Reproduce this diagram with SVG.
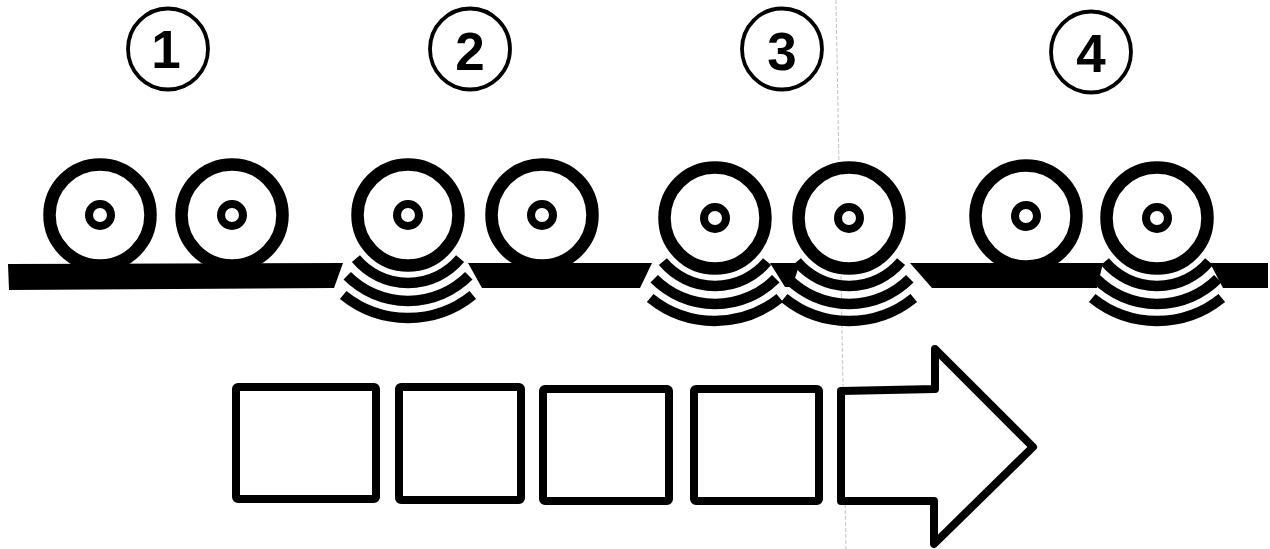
<svg xmlns="http://www.w3.org/2000/svg" xmlns:xlink="http://www.w3.org/1999/xlink" width="1270" height="549" viewBox="0 0 1270 549">
<style>
.lbl{fill:none;stroke:#000;stroke-width:3.8}
.num{font-family:"Liberation Sans",Arial,sans-serif;font-weight:bold;font-size:53px;fill:#000;text-anchor:middle}
.bar{fill:#000}
.box{fill:#fff;stroke:#000;stroke-width:8;stroke-linejoin:round}
</style>
<defs>
<g id="wheel">
<circle r="50.5" fill="#fff" stroke="#000" stroke-width="12.5"/>
<circle r="11" fill="none" stroke="#000" stroke-width="8"/>
</g>
<g id="waves" fill="none" stroke="#000" stroke-width="10.5">
<path d="M-52.1,43.7 A68,68 0 0 0 52.1,43.7"/>
<path d="M-60.8,60.8 A86,86 0 0 0 60.8,60.8"/>
<path d="M-64.8,80.0 A103,103 0 0 0 64.8,80.0"/>
</g>
</defs>
<rect width="1270" height="549" fill="#fff"/>
<line x1="836" y1="0" x2="846" y2="549" stroke="#aaa" stroke-width="1" stroke-dasharray="4 2" opacity="0.7"/>

<g id="label1"><ellipse class="lbl" cx="168" cy="49" rx="40" ry="40.5"/><text class="num" x="166" y="68">1</text></g>
<g id="label2"><ellipse class="lbl" cx="470" cy="49" rx="40" ry="40.5"/><text class="num" x="470" y="70">2</text></g>
<g id="label3"><ellipse class="lbl" cx="782" cy="49" rx="40" ry="40.5"/><text class="num" x="782" y="70">3</text></g>
<g id="label4"><ellipse class="lbl" cx="1091" cy="52" rx="40" ry="40.5"/><text class="num" x="1091" y="72">4</text></g>

<g id="track">
<polygon class="bar" points="8,264 343,263 334,288 9,290"/>
<polygon class="bar" points="468,263 652,263 640,288 482,288"/>
<polygon class="bar" points="770,263 800,263 792,287 785,287"/>
<polygon class="bar" points="910,263 1103,263 1097,288 932,288"/>
<polygon class="bar" points="1210,263 1268,263 1268,288 1223,288"/>
</g>

<g id="step1">
<use xlink:href="#wheel" x="100" y="215"/>
<use xlink:href="#wheel" x="232" y="215"/>
</g>
<g id="step2">
<use xlink:href="#waves" x="408" y="215"/>
<use xlink:href="#wheel" x="408" y="215"/>
<use xlink:href="#wheel" x="542" y="215"/>
</g>
<g id="step3">
<use xlink:href="#waves" x="715" y="218"/>
<use xlink:href="#waves" x="849" y="218"/>
<use xlink:href="#wheel" x="715" y="218"/>
<use xlink:href="#wheel" x="849" y="218"/>
</g>
<g id="step4">
<use xlink:href="#waves" x="1157" y="218"/>
<use xlink:href="#wheel" x="1026" y="216"/>
<use xlink:href="#wheel" x="1157" y="218"/>
</g>

<g id="sequence">
<rect class="box" x="236" y="387" width="140" height="112" rx="2"/>
<rect class="box" x="399" y="387" width="122" height="113" rx="2"/>
<rect class="box" x="543" y="389" width="126" height="112" rx="2"/>
<rect class="box" x="694" y="389" width="125" height="112" rx="2"/>
<path class="box" d="M841,391 L935,389 L935,349 L1033,447 L934,544 L934,501 L841,501 Z"/>
</g>
</svg>
